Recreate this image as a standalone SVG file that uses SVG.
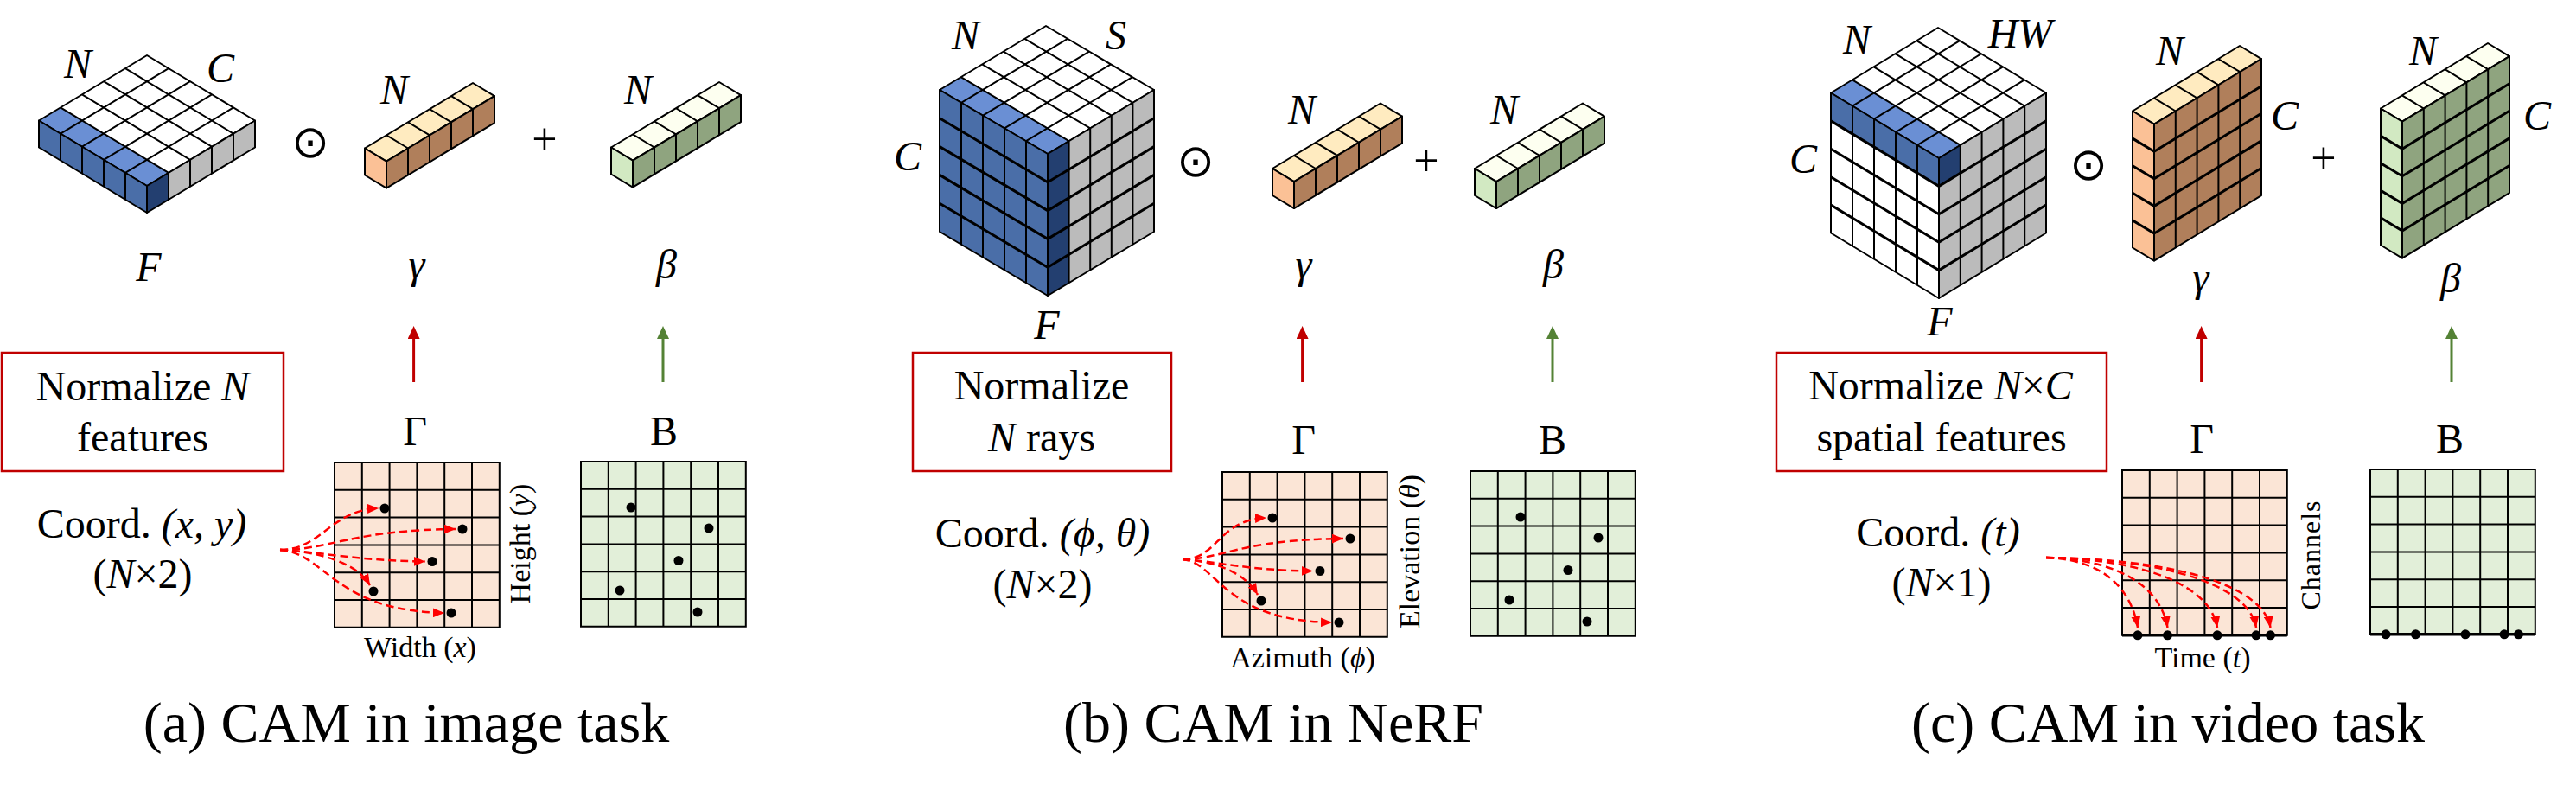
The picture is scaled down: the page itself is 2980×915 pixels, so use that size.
<svg xmlns="http://www.w3.org/2000/svg" width="2980" height="915" viewBox="0 0 2980 915">
<defs>
<style>
.t{font-family:"Liberation Serif","Times New Roman",serif;fill:#000}
.i{font-style:italic}
.m{font-family:"Liberation Serif","Times New Roman",serif;font-style:italic;font-size:48px;fill:#000;text-anchor:middle}
.op{font-family:"DejaVu Sans",sans-serif;font-size:52px;text-anchor:middle;fill:#000}
.ln{fill:none;stroke:#000;stroke-width:2;vector-effect:non-scaling-stroke;stroke-linejoin:round}
.lk{fill:none;stroke:#000;stroke-width:3;vector-effect:non-scaling-stroke}
.dash{fill:none;stroke:#FF0000;stroke-width:2.5;stroke-dasharray:9 5;marker-end:url(#ah)}
.rbox{fill:none;stroke:#C00000;stroke-width:2.5}
.gm{fill:#FBE5D6}
.bt{fill:#E2EFD9}
</style>
<marker id="ah" viewBox="0 0 12 10" refX="12" refY="5" markerWidth="13" markerHeight="11" markerUnits="userSpaceOnUse" orient="auto"><path d="M0,0L12,5L0,10z" fill="#FF0000"/></marker>
<marker id="ar" viewBox="0 0 15 14" refX="0" refY="7" markerWidth="15" markerHeight="14" markerUnits="userSpaceOnUse" orient="auto"><path d="M0,0L15,7L0,14z" fill="#C00000"/></marker>
<marker id="ag" viewBox="0 0 15 14" refX="0" refY="7" markerWidth="15" markerHeight="14" markerUnits="userSpaceOnUse" orient="auto"><path d="M0,0L15,7L0,14z" fill="#548235"/></marker>
<g id="grid">
<path fill="none" stroke="#000" stroke-width="2" d="M31.8,0V190.8M63.6,0V190.8M95.4,0V190.8M127.2,0V190.8M159,0V190.8M0,31.8H190.8M0,63.6H190.8M0,95.4H190.8M0,127.2H190.8M0,159H190.8M0,0H190.8V190.8H0Z"/>
</g>
<g id="dots">
<circle cx="58" cy="53" r="5.5"/><circle cx="148" cy="77" r="5.5"/><circle cx="113" cy="114.5" r="5.5"/><circle cx="45" cy="149" r="5.5"/><circle cx="135" cy="174" r="5.5"/>
</g>
<g id="tdots">
<circle cx="18" cy="190.8" r="5.5"/><circle cx="52.5" cy="190.8" r="5.5"/><circle cx="110" cy="190.8" r="5.5"/><circle cx="155" cy="190.8" r="5.5"/><circle cx="171.5" cy="190.8" r="5.5"/>
</g>
</defs>
<rect width="2980" height="915" fill="#fff"/>

<!-- ================= Panel (a) ================= -->
<g id="a-F">
<g transform="matrix(-25 15.1 25 15.1 170 64)">
<rect width="5" height="5" fill="#fff"/><rect x="4" width="1" height="5" fill="#6A8FD4"/>
<path class="ln" d="M1,0V5M2,0V5M3,0V5M4,0V5M0,1H5M0,2H5M0,3H5M0,4H5M0,0H5V5H0Z"/>
</g>
<g transform="matrix(25 15.1 0 31 45 139.5)">
<rect width="5" height="1" fill="#4A6EA8"/>
<path class="ln" d="M1,0V1M2,0V1M3,0V1M4,0V1M0,0H5V1H0Z"/>
</g>
<g transform="matrix(-25 15.1 0 31 295 139.5)">
<rect width="5" height="1" fill="#BBBBBB"/><rect x="4" width="1" height="1" fill="#233F70"/>
<path class="ln" d="M1,0V1M2,0V1M3,0V1M4,0V1M0,0H5V1H0Z"/>
</g>
<text class="m" x="90" y="90">N</text>
<text class="m" x="255" y="95">C</text>
<text class="m" x="172" y="325">F</text>
</g>
<text id="a-odot" class="op" x="359" y="182">⊙</text>
<g id="a-gamma">
<g transform="matrix(-25 15.1 25 15.1 547 96)">
<rect width="5" height="1" fill="#FFEBC0"/>
<path class="ln" d="M1,0V1M2,0V1M3,0V1M4,0V1M0,0H5V1H0Z"/>
</g>
<g transform="matrix(25 15.1 0 31 422 171.5)">
<rect width="1" height="1" fill="#FBC196"/><path class="ln" d="M0,0H1V1H0Z"/>
</g>
<g transform="matrix(-25 15.1 0 31 572 111.1)">
<rect width="5" height="1" fill="#B07F5B"/>
<path class="ln" d="M1,0V1M2,0V1M3,0V1M4,0V1M0,0H5V1H0Z"/>
</g>
<text class="m" x="456" y="120">N</text>
<text class="m" x="482" y="322">γ</text>
</g>
<text id="a-plus" class="t" x="630" y="178" font-size="52" text-anchor="middle">+</text>
<g id="a-beta">
<g transform="matrix(-25 15.1 25 15.1 832 95)">
<rect width="5" height="1" fill="#FDFFF0"/>
<path class="ln" d="M1,0V1M2,0V1M3,0V1M4,0V1M0,0H5V1H0Z"/>
</g>
<g transform="matrix(25 15.1 0 31 707 170.5)">
<rect width="1" height="1" fill="#D2E9C2"/><path class="ln" d="M0,0H1V1H0Z"/>
</g>
<g transform="matrix(-25 15.1 0 31 857 110.1)">
<rect width="5" height="1" fill="#8FA47F"/>
<path class="ln" d="M1,0V1M2,0V1M3,0V1M4,0V1M0,0H5V1H0Z"/>
</g>
<text class="m" x="738" y="120">N</text>
<text class="m" x="771" y="322">β</text>
</g>
<g id="a-norm">
<rect class="rbox" x="2" y="408" width="326" height="137"/>
<text class="t" x="165" y="463" font-size="48" text-anchor="middle">Normalize <tspan class="i">N</tspan></text>
<text class="t" x="165" y="522" font-size="48" text-anchor="middle">features</text>
</g>
<g id="a-coord">
<text class="t" x="164" y="622" font-size="48" text-anchor="middle">Coord. <tspan class="i">(x, y)</tspan></text>
<text class="t" x="165" y="680" font-size="48" text-anchor="middle">(<tspan class="i">N</tspan>×2)</text>
</g>
<g id="a-Gamma">
<text class="t" x="480" y="515" font-size="48" text-anchor="middle">Γ</text>
<g transform="translate(387,535)"><rect class="gm" width="190.8" height="190.8"/><use href="#grid"/><use href="#dots"/></g>
<text class="t" transform="translate(613,629) rotate(-90)" font-size="34" text-anchor="middle">Height (<tspan class="i">y</tspan>)</text>
<text class="t" x="486" y="760" font-size="34" text-anchor="middle">Width (<tspan class="i">x</tspan>)</text>
</g>
<g id="a-B">
<text class="t" x="768" y="515" font-size="48" text-anchor="middle">B</text>
<g transform="translate(672,534)"><rect class="bt" width="190.8" height="190.8"/><use href="#grid"/><use href="#dots"/></g>
</g>
<text id="a-caption" class="t" x="470" y="858" font-size="66" text-anchor="middle">(a) CAM in image task</text>

<!-- ================= Panel (b) ================= -->
<g id="b-F">
<g transform="matrix(-24.6 14.8 25 14.8 1210 30)">
<rect width="5" height="5" fill="#fff"/><rect x="4" width="1" height="5" fill="#6A8FD4"/>
<path class="ln" d="M1,0V5M2,0V5M3,0V5M4,0V5M0,1H5M0,2H5M0,3H5M0,4H5M0,0H5V5H0Z"/>
</g>
<g transform="matrix(25 14.8 0 32.8 1087 104)">
<rect width="5" height="5" fill="#4A6EA8"/>
<path class="ln" d="M1,0V5M2,0V5M3,0V5M4,0V5M0,0H5V5H0Z"/>
<path class="lk" d="M0,1H5M0,2H5M0,3H5M0,4H5"/>
</g>
<g transform="matrix(-24.6 14.8 0 32.8 1335 104)">
<rect width="5" height="5" fill="#BBBBBB"/><rect x="4" width="1" height="5" fill="#233F70"/>
<path class="ln" d="M1,0V5M2,0V5M3,0V5M4,0V5M0,0H5V5H0Z"/>
<path class="lk" d="M0,1H5M0,2H5M0,3H5M0,4H5"/>
</g>
<text class="m" x="1117" y="57">N</text>
<text class="m" x="1291" y="57">S</text>
<text class="m" x="1050" y="197">C</text>
<text class="m" x="1211" y="392">F</text>
</g>
<text id="b-odot" class="op" x="1383" y="204">⊙</text>
<g id="b-gamma">
<g transform="matrix(-25 15.1 25 15.1 1597 119.5)">
<rect width="5" height="1" fill="#FFEBC0"/>
<path class="ln" d="M1,0V1M2,0V1M3,0V1M4,0V1M0,0H5V1H0Z"/>
</g>
<g transform="matrix(25 15.1 0 31 1472 195)">
<rect width="1" height="1" fill="#FBC196"/><path class="ln" d="M0,0H1V1H0Z"/>
</g>
<g transform="matrix(-25 15.1 0 31 1622 134.6)">
<rect width="5" height="1" fill="#B07F5B"/>
<path class="ln" d="M1,0V1M2,0V1M3,0V1M4,0V1M0,0H5V1H0Z"/>
</g>
<text class="m" x="1506" y="143">N</text>
<text class="m" x="1508" y="322">γ</text>
</g>
<text id="b-plus" class="t" x="1650" y="203" font-size="52" text-anchor="middle">+</text>
<g id="b-beta">
<g transform="matrix(-25 15.1 25 15.1 1831 119.5)">
<rect width="5" height="1" fill="#FDFFF0"/>
<path class="ln" d="M1,0V1M2,0V1M3,0V1M4,0V1M0,0H5V1H0Z"/>
</g>
<g transform="matrix(25 15.1 0 31 1706 195)">
<rect width="1" height="1" fill="#D2E9C2"/><path class="ln" d="M0,0H1V1H0Z"/>
</g>
<g transform="matrix(-25 15.1 0 31 1856 134.6)">
<rect width="5" height="1" fill="#8FA47F"/>
<path class="ln" d="M1,0V1M2,0V1M3,0V1M4,0V1M0,0H5V1H0Z"/>
</g>
<text class="m" x="1740" y="143">N</text>
<text class="m" x="1797" y="322">β</text>
</g>
<g id="b-norm">
<rect class="rbox" x="1056" y="408" width="299" height="137"/>
<text class="t" x="1205" y="462" font-size="48" text-anchor="middle">Normalize</text>
<text class="t" x="1205" y="522" font-size="48" text-anchor="middle"><tspan class="i">N</tspan> rays</text>
</g>
<g id="b-coord">
<text class="t" x="1206" y="633" font-size="48" text-anchor="middle">Coord. <tspan class="i">(ϕ, θ)</tspan></text>
<text class="t" x="1206" y="692" font-size="48" text-anchor="middle">(<tspan class="i">N</tspan>×2)</text>
</g>
<g id="b-Gamma">
<text class="t" x="1508" y="525" font-size="48" text-anchor="middle">Γ</text>
<g transform="translate(1414,546)"><rect class="gm" width="190.8" height="190.8"/><use href="#grid"/><use href="#dots"/></g>
<text class="t" transform="translate(1642,638) rotate(-90)" font-size="34" text-anchor="middle">Elevation (<tspan class="i">θ</tspan>)</text>
<text class="t" x="1507" y="772" font-size="34" text-anchor="middle">Azimuth (<tspan class="i">ϕ</tspan>)</text>
</g>
<g id="b-B">
<text class="t" x="1796" y="525" font-size="48" text-anchor="middle">B</text>
<g transform="translate(1701,545)"><rect class="bt" width="190.8" height="190.8"/><use href="#grid"/><use href="#dots"/></g>
</g>
<text id="b-caption" class="t" x="1473" y="858" font-size="66" text-anchor="middle">(b) CAM in NeRF</text>

<!-- ================= Panel (c) ================= -->
<g id="c-F">
<g transform="matrix(-24.8 15.1 25 15.1 2242 32)">
<rect width="5" height="5" fill="#fff"/><rect x="4" width="1" height="5" fill="#6A8FD4"/>
<path class="ln" d="M1,0V5M2,0V5M3,0V5M4,0V5M0,1H5M0,2H5M0,3H5M0,4H5M0,0H5V5H0Z"/>
</g>
<g transform="matrix(25 15.1 0 32.4 2118 107.5)">
<rect width="5" height="5" fill="#fff"/><rect width="5" height="1" fill="#4A6EA8"/>
<path class="ln" d="M1,0V5M2,0V5M3,0V5M4,0V5M0,0H5V5H0Z"/>
<path class="lk" d="M0,1H5M0,2H5M0,3H5M0,4H5"/>
</g>
<g transform="matrix(-24.8 15.1 0 32.4 2367 107.5)">
<rect width="5" height="5" fill="#BBBBBB"/><rect x="4" width="1" height="1" fill="#233F70"/>
<path class="ln" d="M1,0V5M2,0V5M3,0V5M4,0V5M0,0H5V5H0Z"/>
<path class="lk" d="M0,1H5M0,2H5M0,3H5M0,4H5"/>
</g>
<text class="m" x="2148" y="62">N</text>
<text class="m" x="2337" y="55">HW</text>
<text class="m" x="2086" y="200">C</text>
<text class="m" x="2244" y="388">F</text>
</g>
<text id="c-odot" class="op" x="2416" y="208">⊙</text>
<g id="c-gamma">
<g transform="matrix(-24.8 15.1 25 15.1 2591 53)">
<rect width="5" height="1" fill="#FFEBC0"/>
<path class="ln" d="M1,0V1M2,0V1M3,0V1M4,0V1M0,0H5V1H0Z"/>
</g>
<g transform="matrix(25 15.1 0 31.6 2467 128.5)">
<rect width="1" height="5" fill="#FBC196"/><path class="ln" d="M0,0H1V5H0Z"/>
<path class="lk" d="M0,1H1M0,2H1M0,3H1M0,4H1"/>
</g>
<g transform="matrix(-24.8 15.1 0 31.6 2616 68.1)">
<rect width="5" height="5" fill="#B07F5B"/>
<path class="ln" d="M1,0V5M2,0V5M3,0V5M4,0V5M0,0H5V5H0Z"/>
<path class="lk" d="M0,1H5M0,2H5M0,3H5M0,4H5"/>
</g>
<text class="m" x="2510" y="75">N</text>
<text class="m" x="2643" y="150">C</text>
<text class="m" x="2546" y="337">γ</text>
</g>
<text id="c-plus" class="t" x="2688" y="200" font-size="52" text-anchor="middle">+</text>
<g id="c-beta">
<g transform="matrix(-24.8 15.1 25 15.1 2878 50)">
<rect width="5" height="1" fill="#FDFFF0"/>
<path class="ln" d="M1,0V1M2,0V1M3,0V1M4,0V1M0,0H5V1H0Z"/>
</g>
<g transform="matrix(25 15.1 0 31.6 2754 125.5)">
<rect width="1" height="5" fill="#D2E9C2"/><path class="ln" d="M0,0H1V5H0Z"/>
<path class="lk" d="M0,1H1M0,2H1M0,3H1M0,4H1"/>
</g>
<g transform="matrix(-24.8 15.1 0 31.6 2903 65.1)">
<rect width="5" height="5" fill="#8FA47F"/>
<path class="ln" d="M1,0V5M2,0V5M3,0V5M4,0V5M0,0H5V5H0Z"/>
<path class="lk" d="M0,1H5M0,2H5M0,3H5M0,4H5"/>
</g>
<text class="m" x="2803" y="75">N</text>
<text class="m" x="2935" y="150">C</text>
<text class="m" x="2835" y="338">β</text>
</g>
<g id="c-norm">
<rect class="rbox" x="2055" y="408" width="382" height="137"/>
<text class="t" x="2245" y="462" font-size="48" text-anchor="middle">Normalize <tspan class="i">N</tspan>×<tspan class="i">C</tspan></text>
<text class="t" x="2246" y="522" font-size="48" text-anchor="middle">spatial features</text>
</g>
<g id="c-coord">
<text class="t" x="2242" y="632" font-size="48" text-anchor="middle">Coord. <tspan class="i">(t)</tspan></text>
<text class="t" x="2246" y="690" font-size="48" text-anchor="middle">(<tspan class="i">N</tspan>×1)</text>
</g>
<g id="c-Gamma">
<text class="t" x="2547" y="524" font-size="48" text-anchor="middle">Γ</text>
<g transform="translate(2455,544)"><rect class="gm" width="190.8" height="190.8"/><use href="#grid"/><path d="M0,190.8H190.8" stroke="#000" stroke-width="3.5"/><use href="#tdots"/></g>
<text class="t" transform="translate(2684,642) rotate(-90)" font-size="32" text-anchor="middle" letter-spacing="1">Channels</text>
<text class="t" x="2548" y="772" font-size="34" text-anchor="middle">Time (<tspan class="i">t</tspan>)</text>
</g>
<g id="c-B">
<text class="t" x="2834" y="524" font-size="48" text-anchor="middle">B</text>
<g transform="translate(2742,543)"><rect class="bt" width="190.8" height="190.8"/><use href="#grid"/><path d="M0,190.8H190.8" stroke="#000" stroke-width="3.5"/><use href="#tdots"/></g>
</g>
<text id="c-caption" class="t" x="2508" y="858" font-size="66" text-anchor="middle">(c) CAM in video task</text>

<!-- ================= Connectors ================= -->
<g id="connectors">
<line x1="478.6" y1="442" x2="478.6" y2="392" stroke="#C00000" stroke-width="3" marker-end="url(#ar)"/>
<line x1="767" y1="442" x2="767" y2="392" stroke="#548235" stroke-width="3" marker-end="url(#ag)"/>
<line x1="1506.6" y1="442" x2="1506.6" y2="392" stroke="#C00000" stroke-width="3" marker-end="url(#ar)"/>
<line x1="1796" y1="442" x2="1796" y2="392" stroke="#548235" stroke-width="3" marker-end="url(#ag)"/>
<line x1="2546.6" y1="442" x2="2546.6" y2="392" stroke="#C00000" stroke-width="3" marker-end="url(#ar)"/>
<line x1="2836" y1="442" x2="2836" y2="392" stroke="#548235" stroke-width="3" marker-end="url(#ag)"/>
<g transform="translate(387,535)">
<path class="dash" d="M-63,101C-15,101 -5,55 51,53"/>
<path class="dash" d="M-63,101C-5,101 20,78 140,77"/>
<path class="dash" d="M-63,101C-20,103 30,114 105,114.5"/>
<path class="dash" d="M-63,101C-20,103 25,115 41,142"/>
<path class="dash" d="M-63,101C-10,105 0,172 127,174"/>
</g>
<g transform="translate(1414,546)">
<path class="dash" d="M-46,101C-5,101 -5,55 51,53"/>
<path class="dash" d="M-46,101C0,101 20,78 140,77"/>
<path class="dash" d="M-46,101C-10,103 30,114 105,114.5"/>
<path class="dash" d="M-46,101C-10,103 25,115 41,142"/>
<path class="dash" d="M-46,101C-5,105 0,172 127,174"/>
</g>
<g transform="translate(2455,544)">
<path class="dash" d="M-88,101C-24,103 10,135 18,182"/>
<path class="dash" d="M-88,101C-4,103 44.5,135 52.5,182"/>
<path class="dash" d="M-88,101C31,103 102,135 110,182"/>
<path class="dash" d="M-88,101C58,103 147,135 155,182"/>
<path class="dash" d="M-88,101C68,103 163.5,135 171.5,182"/>
</g>
</g>
</svg>
